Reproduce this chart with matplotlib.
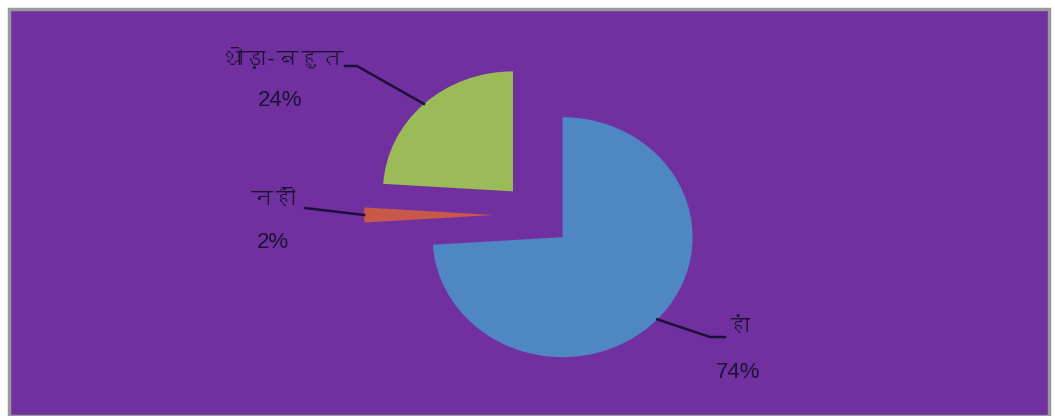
import numpy as np
import matplotlib
import matplotlib.pyplot as plt
from matplotlib import font_manager
from matplotlib.ft2font import FT2Font
from matplotlib.lines import Line2D
from matplotlib.patches import Rectangle
from matplotlib.transforms import IdentityTransform

# हां / नहीं / थोड़ा-बहुत
labels = ['हां', 'नहीं', 'थोड़ा-बहुत']
values = [74, 2, 24]
colors = ['#4F86C4', '#C9574A', '#9BBB59']


def find_font(ch):
    # pick any installed font that has the glyph
    for f in font_manager.fontManager.ttflist:
        try:
            if ord(ch) in FT2Font(f.fname).get_charmap():
                return f.name
        except Exception:
            pass
    return None


deva = find_font('ह')
deva_families = ([deva] if deva else []) + ['DejaVu Sans']

W, H = 1055, 416
fig = plt.figure(figsize=(W / 100, H / 100), dpi=100)
fig.patch.set_facecolor('white')

# purple chart area with grey frame, kept behind the pie
fig.add_artist(Rectangle((9 / W, 0), (1049 - 9) / W, (H - 9) / H,
                         transform=fig.transFigure, facecolor='#7030A0',
                         edgecolor='#9a9a9a', linewidth=2.5, zorder=-5))

# pie: radius 130 px wide, 120 px tall, centre at (537, 215)
cx, cy, rx, ry = 537, 215, 130, 120
ax = fig.add_axes([(cx - 1.5 * rx) / W, (H - cy - 1.5 * ry) / H,
                   3 * rx / W, 3 * ry / H])
ax.set_axis_off()
ax.set_zorder(2)
wedges, _ = ax.pie(values, colors=colors, startangle=90, counterclock=False,
                   explode=[0.27, 0.33, 0.27], radius=1.0)
ax.set_aspect('auto')
ax.set_xlim(-1.5, 1.5)
ax.set_ylim(-1.5, 1.5)


def arc_point(w):
    # point on the outer arc at the middle angle of a wedge, in pixels (top-origin)
    mid = np.deg2rad((w.theta1 + w.theta2) / 2)
    x0, y0 = w.center
    px, py = ax.transData.transform((x0 + w.r * np.cos(mid), y0 + w.r * np.sin(mid)))
    return px, H - py


def leader(points):
    xs = [p[0] for p in points]
    ys = [H - p[1] for p in points]
    fig.add_artist(Line2D(xs, ys, transform=IdentityTransform(),
                          color='#1c0f3a', linewidth=1.8, zorder=5))


def label(x, y, s, fam, size):
    fig.text(x / W, 1 - y / H, s, ha='center', va='center', fontsize=size,
             color='#1e1234', family=fam, zorder=6)


fig.canvas.draw()
blue, red, green = wedges

leader([arc_point(green), (357, 66), (345, 66)])
leader([arc_point(red), (305, 208)])
leader([arc_point(blue), (710, 337), (725, 337)])

label(283, 57, labels[2], deva_families, 16)
label(280, 101, f'{values[2]}%', ['Liberation Sans'], 16)
label(273, 199, labels[1], deva_families, 16)
label(273, 242, f'{values[1]}%', ['Liberation Sans'], 16)
label(738, 327, labels[0], deva_families, 16)
label(738, 372, f'{values[0]}%', ['Liberation Sans'], 16)

fig.savefig('out.png', dpi=100, facecolor=fig.get_facecolor())
